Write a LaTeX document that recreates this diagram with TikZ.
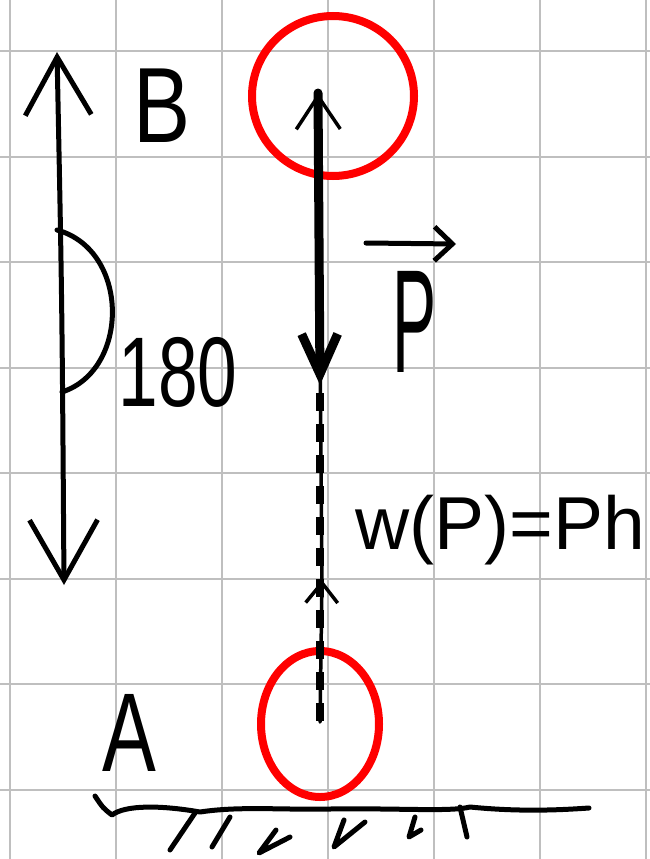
\documentclass[tikz,border=0pt]{standalone}
\usepackage{fontspec}
\setmainfont{Liberation Sans}
\usepackage{graphicx}
\usetikzlibrary{arrows.meta,shapes.geometric,positioning}

\tikzset{
  gridline/.style={draw=gray!50,line width=2pt},
  ring/.style={ellipse,draw=red,line width=8pt,inner sep=0pt},
  pen/.style={line width=5pt,line cap=round,line join=round},
  lbl/.style={inner sep=0pt,outer sep=0pt}
}

\begin{document}
\begin{tikzpicture}[x=1pt,y=-1pt]
        \useasboundingbox[fill=white] (0,0) rectangle (650,859);
        % squared paper
        \foreach \gx in {0,...,6}
            \draw[gridline] ({10+106*\gx},0) -- ({10+106*\gx},859);
        \foreach \gy in {0,...,7}
            \draw[gridline] (0,{51+105.5*\gy}) -- (650,{51+105.5*\gy});
        % the two positions of the body
        \node[ring,minimum width=162pt,minimum height=160pt] (ringB) at (333,96) {};
        \node[ring,minimum width=118pt,minimum height=146pt] (ringA) at (320,724) {};
        \node[lbl] (labB) at (162,106) {\fontsize{107}{107}\selectfont\scalebox{0.8}[1]{B}};
        \node[lbl] (labA) at (129,733) {\fontsize{112}{112}\selectfont\scalebox{0.72}[1]{A}};
        \coordinate (Btip) at (318,93);
        \coordinate (Pend) at (320,385);
        \coordinate (Aend) at (320,722);
        \coordinate (Dmid) at (322,580);
        % displacement from A to B
        \draw[pen,line width=3.5pt,-{Straight Barb[length=20pt,width=32pt]}] (Aend) -- (Dmid);
        \draw[pen,line width=3.5pt,-{Straight Barb[length=33pt,width=44pt]}] (Dmid) -- (Btip);
        % weight P and its line of action
        \draw[pen,line width=9pt,-{Straight Barb[length=40pt,width=36pt]}] (Btip) -- (Pend);
        \draw[line width=8pt,dash pattern=on 18pt off 13pt] ([yshift=-8pt]Pend) -- (Aend);
        \node[lbl] (labP) at (415,322) {\fontsize{147}{147}\selectfont\scalebox{0.45}[1]{P}};
        \coordinate (vecL) at (366,243);
        \coordinate (vecR) at (456,244);
        \draw[pen,-{Straight Barb[length=18pt,width=34pt]}] (vecL) -- (vecR);
        % angle between P and the displacement
        \coordinate (Ltop) at (57,52);
        \coordinate (Lbot) at (64,585);
        \draw[pen,{Straight Barb[length=58pt,width=66pt]}-{Straight Barb[length=60pt,width=68pt]}] (Ltop) .. controls (62,300) .. (Lbot);
        \coordinate (arcTop) at (57,230);
        \coordinate (arcBot) at (62,392);
        \draw[pen] (arcTop) .. controls (130,250) and (130,370) .. (arcBot);
        \node[lbl] (ang) at (178,372) {\fontsize{99}{99}\selectfont\scalebox{0.72}[1]{180}};
        \node[lbl] (work) at (500,530) {\fontsize{75}{75}\selectfont w(P)=Ph};
        % ground
        \draw[pen] (95,796) .. controls (103,808) .. (112,815) .. controls (125,805) and (160,805) .. (200,812)
            .. controls (240,806) and (280,810) .. (330,809) .. controls (400,808) and (450,812) .. (470,807)
            .. controls (520,812) and (560,810) .. (589,808);
        \draw[pen] (195,813) -- (170,850);
        \draw[pen] (230,817) -- (212,847);
        \draw[pen] (290,837) -- (259,853) -- (276,830);
        \draw[pen] (365,822) -- (334,847) -- (344,820);
        \draw[pen] (415,817) -- (409,837) -- (421,830);
        \draw[pen] (460,807) -- (467,837);
    \end{tikzpicture}
\end{document}
